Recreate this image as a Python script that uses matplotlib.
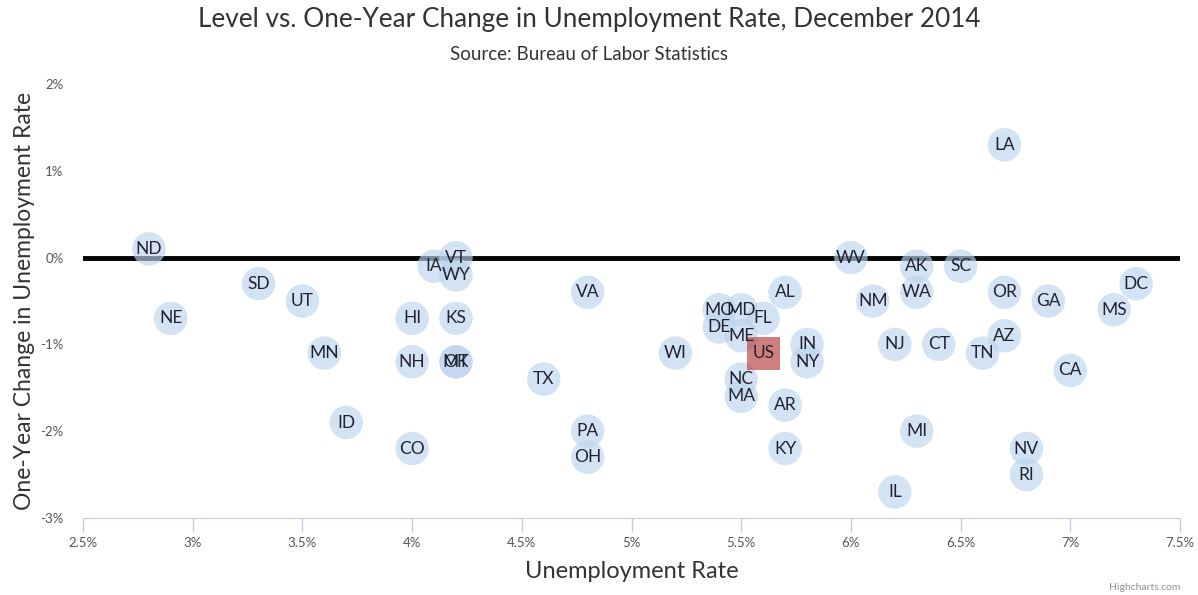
import matplotlib
matplotlib.use("Agg")
import matplotlib.pyplot as plt
from matplotlib.ticker import FuncFormatter, MultipleLocator

plt.rcParams['font.family'] = ['Lato', 'DejaVu Sans']

# level (Dec 2014) and one-year change, percent
states = ['ND', 'NE', 'SD', 'UT', 'MN', 'ID', 'CO', 'HI', 'NH', 'IA', 'VT', 'WY',
          'KS', 'OK', 'MT', 'TX', 'VA', 'PA', 'OH', 'WI', 'MO', 'MD', 'DE', 'ME',
          'FL', 'NC', 'MA', 'AL', 'IN', 'NY', 'AR', 'KY', 'WV', 'NM', 'NJ', 'IL',
          'AK', 'WA', 'MI', 'SC', 'CT', 'TN', 'LA', 'OR', 'AZ', 'NV', 'RI', 'GA',
          'CA', 'MS', 'DC']
level = [2.8, 2.9, 3.3, 3.5, 3.6, 3.7, 4.0, 4.0, 4.0, 4.1, 4.2, 4.2,
         4.2, 4.2, 4.2, 4.6, 4.8, 4.8, 4.8, 5.2, 5.4, 5.5, 5.4, 5.5,
         5.6, 5.5, 5.5, 5.7, 5.8, 5.8, 5.7, 5.7, 6.0, 6.1, 6.2, 6.2,
         6.3, 6.3, 6.3, 6.5, 6.4, 6.6, 6.7, 6.7, 6.7, 6.8, 6.8, 6.9,
         7.0, 7.2, 7.3]
change = [0.1, -0.7, -0.3, -0.5, -1.1, -1.9, -2.2, -0.7, -1.2, -0.1, 0.0, -0.2,
          -0.7, -1.2, -1.2, -1.4, -0.4, -2.0, -2.3, -1.1, -0.6, -0.6, -0.8, -0.9,
          -0.7, -1.4, -1.6, -0.4, -1.0, -1.2, -1.7, -2.2, 0.0, -0.5, -1.0, -2.7,
          -0.1, -0.4, -2.0, -0.1, -1.0, -1.1, 1.3, -0.4, -0.9, -2.2, -2.5, -0.5,
          -1.3, -0.6, -0.3]
us_level = [5.6]
us_change = [-1.1]

fig = plt.figure(figsize=(11.98, 5.95), dpi=100)
ax = fig.add_axes([83 / 1198, 1 - 518 / 595, 1097 / 1198, 434 / 595])

ax.axhline(0, color='black', lw=3.5, zorder=1)

ax.scatter(level, change, s=580, color='#bcd4ee', alpha=0.65, edgecolors='none', zorder=2)
for s, x, y in zip(states, level, change):
    ax.text(x, y, s, ha='center', va='center', fontsize=12.5, color='#222233', zorder=3)

ax.scatter(us_level, us_change, s=560, marker='s', color='#b94a48', alpha=0.7,
           edgecolors='none', zorder=2)
ax.text(us_level[0], us_change[0], 'US', ha='center', va='center', fontsize=12.5,
        color='#222233', zorder=3)

ax.set_xlim(2.5, 7.5)
ax.set_ylim(-3, 2)
ax.xaxis.set_major_locator(MultipleLocator(0.5))
ax.yaxis.set_major_locator(MultipleLocator(1))
ax.xaxis.set_major_formatter(FuncFormatter(lambda v, p: f'{v:g}%'))
ax.yaxis.set_major_formatter(FuncFormatter(lambda v, p: f'{v:g}%'))

for side in ['top', 'right', 'left']:
    ax.spines[side].set_visible(False)
ax.spines['bottom'].set_color('#c0d0e0')
ax.tick_params(axis='x', colors='#c0d0e0', length=10, width=1, labelcolor='#555555',
               labelsize=9.5, pad=4)
ax.tick_params(axis='y', length=0, labelcolor='#555555', labelsize=9.5, pad=14)

ax.set_xlabel('Unemployment Rate', fontsize=17, color='#333333', labelpad=8)
ax.set_ylabel('One-Year Change in Unemployment Rate', fontsize=16.5, color='#333333',
              labelpad=4)

fig.text(589 / 1198, 1 - 20 / 595, 'Level vs. One-Year Change in Unemployment Rate, December 2014',
         ha='center', va='center', fontsize=18.8, color='#333333')
fig.text(589 / 1198, 1 - 55 / 595, 'Source: Bureau of Labor Statistics',
         ha='center', va='center', fontsize=13.5, color='#333333')
fig.text(1 - 18 / 1198, 1 - 588 / 595, 'Highcharts.com', ha='right', va='center',
         fontsize=7.5, color='#909090')

fig.savefig('out.png', dpi=100)
